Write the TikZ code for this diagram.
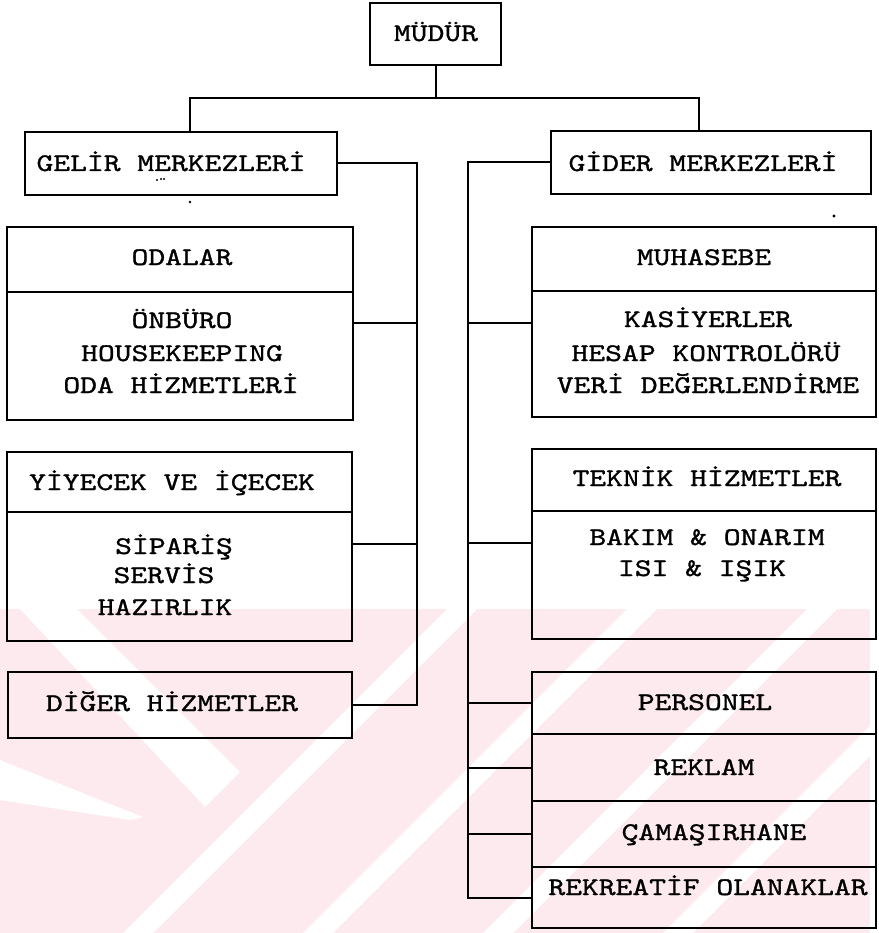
\documentclass[tikz,border=0pt]{standalone}
\usepackage{fontspec}
\newfontfamily\typer[Extension=.otf, FakeStretch=1.26, FakeBold=1.2]{lmmono10-regular}
\usetikzlibrary{calc}
\definecolor{wm}{RGB}{252,234,238}
\tikzset{
  frame/.style={draw=black, line width=2pt, rectangle, inner sep=0pt, outer sep=0pt},
  lbl/.style={font=\typer\fontsize{25.4}{33}\selectfont, inner sep=0pt, anchor=base},
  link/.style={draw=black, line width=2pt},
  speck/.style={fill=black, draw=none},
}
\begin{document}
\begin{tikzpicture}[x=1pt, y=-1pt]
\useasboundingbox (0,0) rectangle (878,933);

% faint diagonal emblem in the lower part of the page
\begin{scope}
  \clip (0,609) rectangle (870,933);
  \fill[wm] (0,609) rectangle (870,933);
  \fill[white] (20,609) -- (77,609) -- (240,772) -- (205,807) -- cycle;
  \fill[white] (0,760) -- (0,800) -- (130,820) -- (143,817) -- cycle;
  \fill[white] (447,609) -- (477,609) -- (153,933) -- (123,933) -- cycle;
  \fill[white] (627,609) -- (657,609) -- (333,933) -- (303,933) -- cycle;
  \fill[white] (807,609) -- (837,609) -- (513,933) -- (483,933) -- cycle;
  \fill[white] (987,609) -- (1017,609) -- (693,933) -- (663,933) -- cycle;
\end{scope}

% boxes
\node[frame, minimum width=131, minimum height=62] (mudur) at (435.5,34) {};
\node[frame, minimum width=312, minimum height=63] (gelir) at (181,163.5) {};
\node[frame, minimum width=320, minimum height=63] (gider) at (711,162.5) {};

\node[frame, minimum width=346, minimum height=65]  (odalarH) at (180,259.5) {};
\node[frame, minimum width=346, minimum height=128] (odalarB) at (180,356) {};
\node[frame, minimum width=345, minimum height=60]  (yiyecekH) at (179.5,482) {};
\node[frame, minimum width=345, minimum height=129] (yiyecekB) at (179.5,576.5) {};
\node[frame, minimum width=344, minimum height=66]  (diger) at (180,705) {};

\node[frame, minimum width=344, minimum height=64]  (muhasebeH) at (704,259) {};
\node[frame, minimum width=344, minimum height=126] (muhasebeB) at (704,354) {};
\node[frame, minimum width=344, minimum height=62]  (teknikH) at (704,480) {};
\node[frame, minimum width=344, minimum height=128] (teknikB) at (704,575) {};
\node[frame, minimum width=344, minimum height=62]  (personel) at (704,703) {};
\node[frame, minimum width=344, minimum height=67]  (reklam) at (704,767.5) {};
\node[frame, minimum width=344, minimum height=66]  (camasir) at (704,834) {};
\node[frame, minimum width=344, minimum height=61]  (rekreatif) at (704,897.5) {};

% texts
\node[lbl] (tMudur) at (436,41) {MÜDÜR};
\node[lbl] (tGelir) at (171,171) {GELİR MERKEZLERİ};
\node[lbl] (tGider) at (703,171) {GİDER MERKEZLERİ};

\node[lbl] (tOdalar) at (182,265) {ODALAR};
\node[lbl] (tOnburo) at (182,328) {ÖNBÜRO};
\node[lbl] (tHouse) at (182,361) {HOUSEKEEPING};
\node[lbl] (tOdaHiz) at (181,393) {ODA HİZMETLERİ};

\node[lbl] (tYiyecek) at (172,490) {YİYECEK VE İÇECEK};
\node[lbl] (tSiparis) at (174,554) {SİPARİŞ};
\node[lbl] (tServis) at (164,583) {SERVİS};
\node[lbl] (tHazir) at (165,615) {HAZIRLIK};

\node[lbl] (tDiger) at (172,711) {DİĞER HİZMETLER};

\node[lbl] (tMuhasebe) at (704,265) {MUHASEBE};
\node[lbl] (tKasiyer) at (708,327) {KASİYERLER};
\node[lbl] (tHesap) at (706,361) {HESAP KONTROLÖRÜ};
\node[lbl] (tVeri) at (708,393) {VERİ DEĞERLENDİRME};

\node[lbl] (tTeknik) at (707,486) {TEKNİK HİZMETLER};
\node[lbl] (tBakim) at (707,545) {BAKIM \& ONARIM};
\node[lbl] (tIsi) at (702,576) {ISI \& IŞIK};

\node[lbl] (tPersonel) at (705,710) {PERSONEL};
\node[lbl] (tReklam) at (704,775) {REKLAM};
\node[lbl] (tCamasir) at (714,840) {ÇAMAŞIRHANE};
\node[lbl] (tRekreatif) at (708,895) {REKREATİF OLANAKLAR};

% top bus
\coordinate (bus)  at (435.5,98);
\coordinate (busL) at (190,98);
\coordinate (busR) at (699,98);
\draw[link] (mudur.south) -- (bus);
\draw[link] (busL |- gelir.north) -- (busL) -- (busR) -- (busR |- gider.north);

% revenue side trunk
\coordinate (trunkL) at (417,163.5);
\draw[link] (gelir.east) -- (trunkL) -- (trunkL |- diger.east) -- (diger.east);
\coordinate (jOda) at (417,323);
\draw[link] (jOda) -- (jOda -| odalarB.east);
\coordinate (jYiy) at (417,544);
\draw[link] (jYiy) -- (jYiy -| yiyecekB.east);

% cost side trunk
\coordinate (trunkR) at (467.5,162.5);
\draw[link] (gider.west) -- (trunkR) -- (trunkR |- rekreatif.west) -- (rekreatif.west);
\coordinate (jMuh) at (467.5,323);
\draw[link] (jMuh) -- (jMuh -| muhasebeB.west);
\coordinate (jTek) at (467.5,543);
\draw[link] (jTek) -- (jTek -| teknikB.west);
\draw[link] (trunkR |- personel.west) -- (personel.west);
\draw[link] (trunkR |- reklam.west) -- (reklam.west);
\draw[link] (trunkR |- camasir.west) -- (camasir.west);

% stray specks
\fill[speck] (157,180) circle (1.1);
\fill[speck] (161,179) circle (1.1);
\fill[speck] (164,179) circle (1.1);
\fill[speck] (190,202) circle (1.3);
\fill[speck] (834,216) circle (1.6);
\end{tikzpicture}
\end{document}
